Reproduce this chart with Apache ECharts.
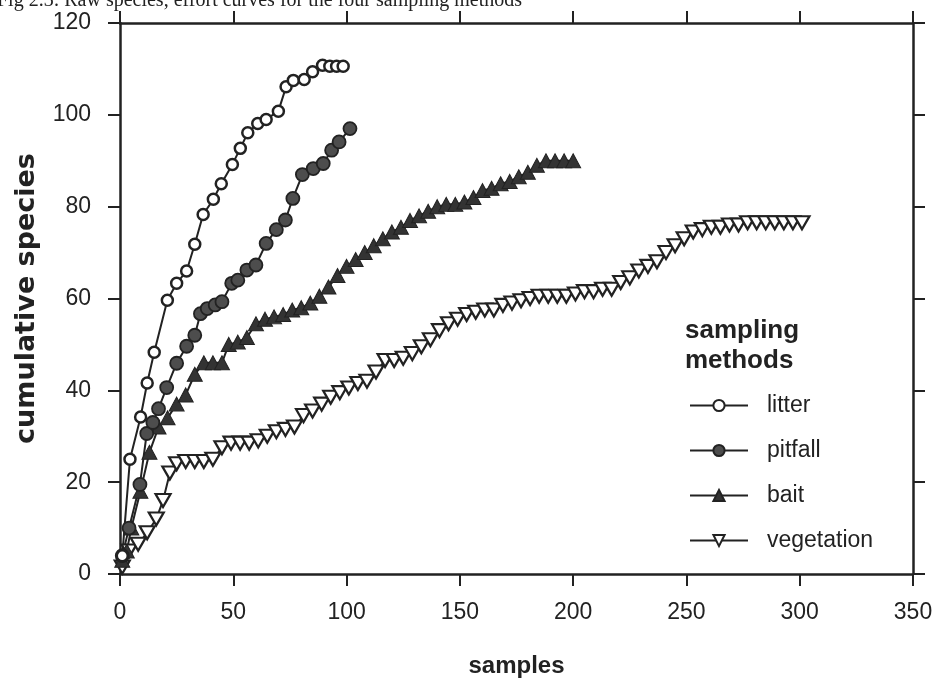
<!DOCTYPE html>
<html>
<head>
<meta charset="utf-8">
<script src="https://cdn.jsdelivr.net/npm/echarts@6/dist/echarts.min.js"></script>
<style>
  html, body { margin: 0; padding: 0; background: #fff; }
  #chart { width: 936px; height: 682px; }
</style>
</head>
<body>
<div id="chart"></div>
<script>
// Fig 2.3 - cumulative species vs. samples, four sampling methods

// x ticks / y ticks
const xTicks = [0, 50, 100, 150, 200, 250, 300, 350]
const yTicks = [0, 20, 40, 60, 80, 100, 120]

// litter (open circles)
const litterSamples = [1, 4.4, 9.1, 12, 15.1, 20.9, 25, 29.4, 33, 36.7, 41.2, 44.7, 49.6, 53.1, 56.4, 60.8, 64.5, 69.9, 73.3, 76.5, 81.3, 85, 89.4, 92.6, 95.6, 98.5]
const litterSpecies = [4, 25, 34.2, 41.6, 48.3, 59.6, 63.3, 66, 71.8, 78.3, 81.6, 85, 89.2, 92.7, 96.1, 98.1, 99, 100.8, 106.1, 107.5, 107.7, 109.4, 110.8, 110.6, 110.6, 110.6]

// pitfall (filled circles)
const pitfallSamples = [1, 4, 8.8, 11.8, 14.5, 17, 20.6, 25, 29.4, 33, 35.5, 38.5, 42, 45, 49.3, 52, 56, 60, 64.5, 69, 73, 76.3, 80.5, 85.3, 89.7, 93.4, 96.7, 101.5]
const pitfallSpecies = [4, 10, 19.5, 30.6, 33, 36, 40.6, 45.9, 49.6, 52, 56.7, 57.8, 58.6, 59.3, 63.3, 64, 66.2, 67.3, 72, 75, 77.1, 81.8, 87, 88.3, 89.4, 92.3, 94.1, 97]

// bait (filled triangles)
const baitSamples = [1, 3, 5, 9, 13, 17, 21, 25, 29, 33, 37, 41, 45, 48, 52, 56, 60, 64, 68, 72, 76, 80, 84, 88, 92, 96, 100, 104, 108, 112, 116, 120, 124, 128, 132, 136, 140, 144, 148, 152, 156, 160, 164, 168, 172, 176, 180, 184, 188, 192, 196, 200]
const baitSpecies = [3, 5, 10, 18, 26.5, 32, 34, 37, 39, 43.5, 46, 46, 46, 50, 50.5, 51.5, 54.5, 55.5, 56, 56.5, 57.5, 58, 59, 60.5, 62.5, 65, 67, 68.5, 70, 71.5, 73, 74.5, 75.5, 77, 78, 79, 80, 80.5, 80.5, 81, 82, 83.5, 84, 85, 85.5, 86.5, 87.5, 89, 90, 90, 90, 90]

// vegetation (open down triangles)
const vegSamples = [1, 4, 8, 12, 16, 19, 22, 25, 29, 33, 37, 41, 45, 49, 53, 57, 61, 65, 69, 73, 77, 81, 85, 89, 93, 97, 101, 105, 109, 113, 117, 121, 125, 129, 133, 137, 141, 145, 149, 153, 157, 161, 165, 169, 173, 177, 181, 185, 189, 193, 197, 201, 205, 209, 213, 217, 221, 225, 229, 233, 237, 241, 245, 249, 253, 257, 261, 265, 269, 273, 277, 281, 285, 289, 293, 297, 301]
const vegSpecies = [1.5, 5, 6.5, 9, 12, 16, 22, 24, 24.5, 24.5, 24.5, 25, 27.5, 28.5, 28.5, 28.5, 29, 30, 31, 31.5, 32, 34.5, 35.5, 37, 38.5, 39.5, 40.5, 41.5, 42, 44, 46.5, 46.5, 47, 48, 49.5, 51, 53, 54.5, 55.5, 56.5, 57, 57.5, 57.5, 58.5, 59, 59.5, 60, 60.5, 60.5, 60.5, 60.5, 61, 61.5, 61.5, 62, 62, 63.5, 64.5, 66, 67, 68, 70, 71.5, 73, 74.5, 75, 75.5, 75.5, 76, 76, 76.5, 76.5, 76.5, 76.5, 76.5, 76.5, 76.5]

const ink = '#222'
const sans = 'Liberation Sans'

const pairs = (xs, ys) => xs.map((x, i) => [x, ys[i]])

const axisCommon = {
  type: 'value',
  axisLine: { show: true, onZero: false, lineStyle: { color: ink, width: 2.5 } },
  axisTick: { show: true, inside: false, length: 12, lineStyle: { color: ink, width: 2 } },
  splitLine: { show: false }
}

const chart = echarts.init(document.getElementById('chart'))

const option = {
  backgroundColor: '#fff',
  animation: false,
  graphic: [
    {
      type: 'text', left: -3, top: -9,
      style: { text: 'Fig 2.3: Raw species, effort curves for the four sampling methods', font: '20px "Liberation Serif"', fill: '#222' }
    },
    {
      type: 'text', left: 685, top: 316,
      style: { text: 'sampling\nmethods', font: 'bold 26px "Liberation Sans"', lineHeight: 30, fill: ink }
    }
  ],
  grid: { left: 120, right: 23, top: 23, bottom: 108, containLabel: false, outerBoundsMode: 'none' },
  legend: {
    orient: 'vertical',
    left: 684,
    top: 389,
    itemWidth: 58,
    itemHeight: 14,
    itemGap: 22,
    data: ['litter', 'pitfall', 'bait', 'vegetation'],
    textStyle: { fontFamily: sans, fontSize: 23, color: ink, padding: [0, 0, 0, 14] }
  },
  xAxis: [
    Object.assign({}, axisCommon, {
      position: 'bottom', min: xTicks[0], max: xTicks[xTicks.length - 1], interval: 50,
      name: 'samples', nameLocation: 'middle', nameGap: 80,
      nameTextStyle: { fontFamily: sans, fontWeight: 'bold', fontSize: 24, color: ink },
      axisLabel: { margin: 27, fontFamily: sans, fontSize: 23, color: ink }
    }),
    Object.assign({}, axisCommon, {
      position: 'top', min: xTicks[0], max: xTicks[xTicks.length - 1], interval: 50,
      axisLabel: { show: false }
    })
  ],
  yAxis: [
    Object.assign({}, axisCommon, {
      position: 'left', min: yTicks[0], max: yTicks[yTicks.length - 1], interval: 20,
      name: 'cumulative species', nameLocation: 'middle', nameGap: 80,
      nameTextStyle: { fontFamily: 'DejaVu Sans', fontWeight: 'bold', fontSize: 27, color: ink },
      axisLabel: { margin: 29, fontFamily: sans, fontSize: 23, color: ink }
    }),
    Object.assign({}, axisCommon, {
      position: 'right', min: yTicks[0], max: yTicks[yTicks.length - 1], interval: 20,
      axisLabel: { show: false }
    })
  ],
  series: [
    {
      name: 'vegetation', type: 'line', data: pairs(vegSamples, vegSpecies),
      symbol: 'triangle', symbolRotate: 180, symbolSize: [15, 13],
      lineStyle: { color: ink, width: 2 },
      itemStyle: { color: '#fff', borderColor: ink, borderWidth: 2.2 }
    },
    {
      name: 'bait', type: 'line', data: pairs(baitSamples, baitSpecies),
      symbol: 'triangle', symbolSize: [15, 14],
      lineStyle: { color: ink, width: 2 },
      itemStyle: { color: '#333', borderColor: ink, borderWidth: 1 }
    },
    {
      name: 'pitfall', type: 'line', data: pairs(pitfallSamples, pitfallSpecies),
      symbol: 'circle', symbolSize: 13,
      lineStyle: { color: ink, width: 2 },
      itemStyle: { color: '#4d4d4d', borderColor: ink, borderWidth: 1.8 }
    },
    {
      name: 'litter', type: 'line', data: pairs(litterSamples, litterSpecies),
      symbol: 'circle', symbolSize: 11,
      lineStyle: { color: ink, width: 2 },
      itemStyle: { color: '#fff', borderColor: ink, borderWidth: 2.5 }
    }
  ]
}

chart.setOption(option)
</script>
</body>
</html>
